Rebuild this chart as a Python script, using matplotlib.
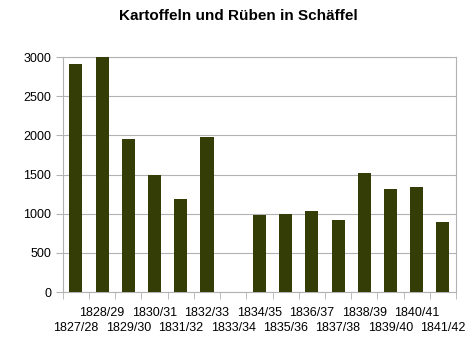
import matplotlib.pyplot as plt
import numpy as np

plt.rcParams['font.family'] = ['Liberation Sans', 'DejaVu Sans']

seasons = ['1827/28', '1828/29', '1829/30', '1830/31', '1831/32', '1832/33', '1833/34',
           '1834/35', '1835/36', '1836/37', '1837/38', '1838/39', '1839/40', '1840/41', '1841/42']
values = [2910, 3000, 1960, 1500, 1190, 1980, np.nan,
          990, 1000, 1030, 920, 1520, 1315, 1340, 890]

fig = plt.figure(figsize=(4.76, 3.55), dpi=100)
ax = fig.add_axes([0.132, 0.177, 0.826, 0.662])

x = np.arange(len(seasons))
ax.bar(x, values, width=0.5, color='#333d05', zorder=3)

ax.set_xlim(-0.5, len(seasons) - 0.5)
ax.set_ylim(0, 3000)
ax.set_yticks(range(0, 3001, 500))
ax.grid(axis='y', color='#b3b3b3', linewidth=0.8, zorder=0)

# category labels in two staggered rows
ax.set_xticks([])
ax.set_xticks(np.arange(-0.5, len(seasons)), minor=True)
ax.tick_params(axis='x', which='minor', length=5, color='#b3b3b3')
trans = ax.get_xaxis_transform()
for i, s in enumerate(seasons):
    yoff = -0.065 if i % 2 else -0.125
    ax.text(x[i], yoff, s, transform=trans, ha='center', va='top', fontsize=9)

ax.tick_params(axis='y', length=5, color='#b3b3b3', labelsize=9)

for side in ax.spines.values():
    side.set_color('#b3b3b3')

fig.suptitle('Kartoffeln und Rüben in Schäffel', x=0.5, y=0.975, fontsize=11, fontweight='bold')

fig.savefig('out.png', dpi=100)
